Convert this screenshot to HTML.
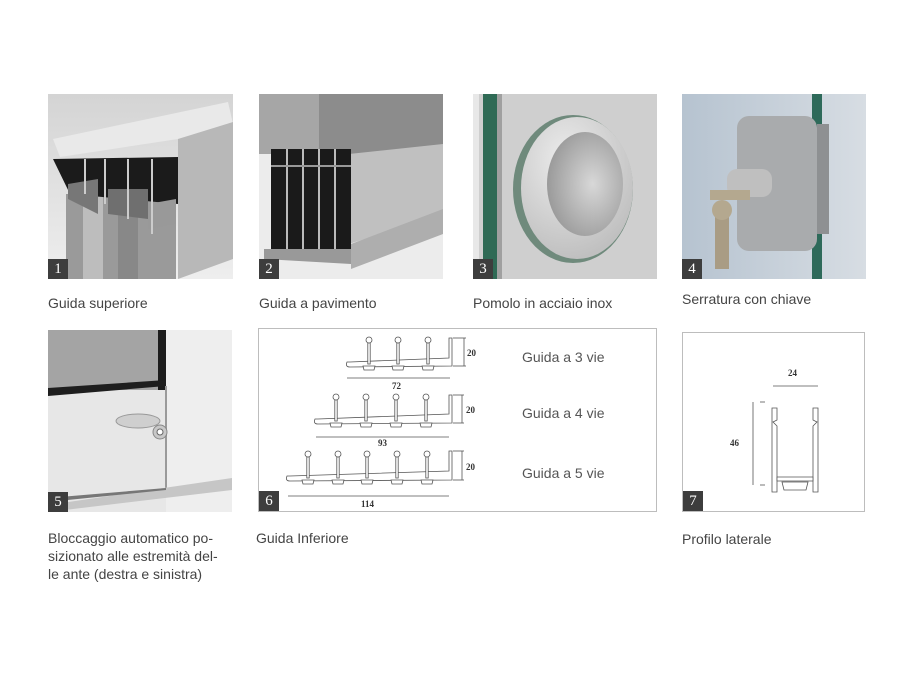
<!DOCTYPE html>
<html><head><meta charset="utf-8"><style>
html,body{margin:0;padding:0;background:#fff;}
body{width:900px;height:675px;position:relative;overflow:hidden;font-family:"Liberation Sans",sans-serif;}
.cap{position:absolute;font-size:14px;color:#444;line-height:18px;}
.ph{position:absolute;overflow:hidden;}
.badge{position:absolute;left:0;bottom:0;width:20px;height:20px;background:#3d3d3d;color:#fff;font-family:"Liberation Serif",serif;font-size:15px;text-align:center;line-height:21px;}
</style></head><body>

<!-- Photo 1 -->
<div class="ph" style="left:48px;top:94px;width:185px;height:185px;">
<svg width="185" height="185">
<defs><linearGradient id="g1" x1="0" y1="0" x2="0" y2="1"><stop offset="0" stop-color="#d4d4d4"/><stop offset="1" stop-color="#eeeeee"/></linearGradient></defs>
<rect width="185" height="185" fill="url(#g1)"/>
<rect x="18" y="100" width="110" height="85" fill="#9a9a9a"/>
<rect x="35" y="100" width="20" height="85" fill="#bdbdbd"/>
<rect x="70" y="100" width="20" height="85" fill="#888"/>
<polygon points="5,45 180,8 185,30 130,45 12,63" fill="#e9e9e9"/>
<polygon points="5,65 130,63 130,110 22,100" fill="#1b1b1b"/>
<polygon points="130,45 185,28 185,165 130,185" fill="#b8b8b8"/>
<polygon points="20,90 50,85 50,120 20,105" fill="#777"/>
<polygon points="60,95 100,95 100,125 60,120" fill="#6f6f6f"/>
<polygon points="100,110 128,105 128,130 100,135" fill="#999"/>
<line x1="37" y1="65" x2="37" y2="100" stroke="#ccc" stroke-width="2"/>
<line x1="57" y1="65" x2="57" y2="110" stroke="#ccc" stroke-width="2"/>
<line x1="80" y1="65" x2="80" y2="125" stroke="#ccc" stroke-width="2"/>
<line x1="104" y1="65" x2="104" y2="140" stroke="#ccc" stroke-width="2"/>
</svg><div class="badge">1</div></div>

<!-- Photo 2 -->
<div class="ph" style="left:259px;top:94px;width:184px;height:185px;">
<svg width="184" height="185">
<rect width="184" height="185" fill="#ececec"/>
<rect x="0" y="0" width="184" height="60" fill="#8c8c8c"/>
<rect x="0" y="0" width="60" height="60" fill="#a6a6a6"/>
<polygon points="90,60 184,50 184,120 90,150" fill="#c0c0c0"/>
<rect x="12" y="55" width="80" height="100" fill="#1a1a1a"/>
<line x1="28" y1="55" x2="28" y2="155" stroke="#bbb" stroke-width="2"/>
<line x1="44" y1="55" x2="44" y2="155" stroke="#bbb" stroke-width="2"/>
<line x1="60" y1="55" x2="60" y2="155" stroke="#bbb" stroke-width="2"/>
<line x1="76" y1="55" x2="76" y2="155" stroke="#bbb" stroke-width="2"/>
<line x1="12" y1="72" x2="92" y2="72" stroke="#999" stroke-width="2"/>
<polygon points="92,150 184,115 184,140 92,175" fill="#aeaeae"/>
<polygon points="5,155 92,155 92,170 5,165" fill="#999"/>
</svg><div class="badge">2</div></div>

<!-- Photo 3 -->
<div class="ph" style="left:473px;top:94px;width:184px;height:185px;">
<svg width="184" height="185">
<defs><radialGradient id="g3" cx="0.4" cy="0.3" r="0.7"><stop offset="0" stop-color="#ececec"/><stop offset="1" stop-color="#c0c0c0"/></radialGradient>
<radialGradient id="g3b" cx="0.6" cy="0.5" r="0.6"><stop offset="0" stop-color="#d8d8d8"/><stop offset="1" stop-color="#9a9a9a"/></radialGradient></defs>
<rect width="184" height="185" fill="#cfcfcf"/>
<rect x="0" y="0" width="6" height="185" fill="#e8e8e8"/>
<rect x="10" y="0" width="14" height="185" fill="#2f6a55"/>
<rect x="24" y="0" width="5" height="185" fill="#a0a0a0"/>
<ellipse cx="100" cy="95" rx="60" ry="74" fill="#6f8a7c"/>
<ellipse cx="104" cy="94" rx="56" ry="71" fill="url(#g3)"/>
<ellipse cx="112" cy="90" rx="38" ry="52" fill="url(#g3b)"/>
</svg><div class="badge">3</div></div>

<!-- Photo 4 -->
<div class="ph" style="left:682px;top:94px;width:184px;height:185px;">
<svg width="184" height="185">
<defs><linearGradient id="g4" x1="0" y1="0" x2="1" y2="0"><stop offset="0" stop-color="#b6c3d0"/><stop offset="1" stop-color="#d7dde3"/></linearGradient></defs>
<rect width="184" height="185" fill="url(#g4)"/>
<rect x="130" y="0" width="10" height="185" fill="#2e6a5a"/>
<rect x="55" y="22" width="80" height="135" rx="12" fill="#a9abad"/>
<rect x="135" y="30" width="12" height="110" fill="#8e9092"/>
<rect x="45" y="75" width="45" height="28" rx="10" fill="#bfbfbf"/>
<rect x="28" y="96" width="40" height="10" fill="#b4a88f"/>
<rect x="33" y="110" width="14" height="65" fill="#a99c84"/>
<circle cx="40" cy="116" r="10" fill="#b4a88f"/>
</svg><div class="badge">4</div></div>

<!-- Photo 5 -->
<div class="ph" style="left:48px;top:330px;width:184px;height:182px;">
<svg width="184" height="182">
<rect width="184" height="182" fill="#e7e7e7"/>
<rect x="0" y="0" width="112" height="60" fill="#a4a4a4"/>
<rect x="110" y="0" width="8" height="60" fill="#1c1c1c"/>
<polygon points="0,58 118,50 118,56 0,66" fill="#1e1e1e"/>
<rect x="118" y="0" width="66" height="182" fill="#eeeeee"/>
<line x1="118" y1="56" x2="118" y2="158" stroke="#9a9a9a" stroke-width="2"/>
<polygon points="0,175 184,148 184,160 0,182" fill="#c6c6c6"/>
<polygon points="0,168 118,158 118,160 0,172" fill="#777"/>
<ellipse cx="90" cy="91" rx="22" ry="7" fill="#cfcfcf" stroke="#999"/>
<circle cx="112" cy="102" r="7" fill="#c8c8c8" stroke="#888"/>
<circle cx="112" cy="102" r="3" fill="#fff" stroke="#666"/>
</svg><div class="badge">5</div></div>

<!-- Box 6 -->
<div style="position:absolute;left:258px;top:328px;width:397px;height:182px;border:1.5px solid #bdbdbd;">
<div class="badge">6</div></div>
<svg style="position:absolute;left:0;top:0" width="900" height="675">
<defs>
<g id="stem" fill="#fff" stroke="#555" stroke-width="0.8">
<circle cx="0" cy="0" r="3"/>
<rect x="-1.2" y="3" width="2.4" height="21"/>
<path d="M-6,26 L6,26 L5,30 L-5,30 Z"/>
</g>
</defs>
<g fill="none" stroke="#555" stroke-width="0.8">
<path d="M350,362 L449,358 L449,338 L452,338 L452,366 L350,367 Q345,367 347,362 Z" fill="#fff"/>
<use href="#stem" x="369" y="340"/><use href="#stem" x="398" y="340"/><use href="#stem" x="428" y="340"/>
<line x1="453" y1="338" x2="466" y2="338"/><line x1="453" y1="366" x2="466" y2="366"/>
<line x1="464" y1="338" x2="464" y2="366"/>
<line x1="347" y1="378" x2="450" y2="378"/>
<path d="M318,419 L449,414 L449,395 L452,395 L452,423 L318,424 Q313,424 315,419 Z" fill="#fff"/>
<use href="#stem" x="336" y="397"/><use href="#stem" x="366" y="397"/><use href="#stem" x="396" y="397"/><use href="#stem" x="426" y="397"/>
<line x1="453" y1="395" x2="464" y2="395"/><line x1="453" y1="423" x2="464" y2="423"/>
<line x1="462" y1="395" x2="462" y2="423"/>
<line x1="316" y1="437" x2="449" y2="437"/>
<path d="M290,476 L449,471 L449,451 L452,451 L452,480 L290,481 Q285,481 287,476 Z" fill="#fff"/>
<use href="#stem" x="308" y="454"/><use href="#stem" x="338" y="454"/><use href="#stem" x="367" y="454"/><use href="#stem" x="397" y="454"/><use href="#stem" x="427" y="454"/>
<line x1="453" y1="451" x2="464" y2="451"/><line x1="453" y1="480" x2="464" y2="480"/>
<line x1="462" y1="451" x2="462" y2="480"/>
<line x1="288" y1="496" x2="449" y2="496"/>
<path d="M772,408 L777,408 L777,420 L773,422 L777,426 L777,492 L772,492 Z" fill="#fff"/>
<path d="M813,408 L818,408 L818,492 L813,492 L813,426 L817,422 L813,420 Z" fill="#fff"/>
<path d="M777,477 L813,477 L813,481 L777,481 Z" fill="#fff"/>
<path d="M782,482 L808,482 L806,490 L784,490 Z" fill="#fff"/>
<line x1="773" y1="386" x2="818" y2="386"/>
<line x1="760" y1="402" x2="765" y2="402"/><line x1="760" y1="485" x2="765" y2="485"/>
<line x1="753" y1="402" x2="753" y2="485"/>
</g>
<g font-family="Liberation Serif,serif" font-size="9" font-weight="bold" fill="#333">
<text x="467" y="356">20</text><text x="466" y="413">20</text><text x="466" y="470">20</text>
<text x="392" y="389">72</text><text x="378" y="446">93</text><text x="361" y="507">114</text>
<text x="788" y="376">24</text><text x="730" y="446">46</text>
</g>
<g font-family="Liberation Sans,sans-serif" font-size="14" fill="#555">
<text x="522" y="362">Guida a 3 vie</text>
<text x="522" y="418">Guida a 4 vie</text>
<text x="522" y="478">Guida a 5 vie</text>
</g>
</svg>

<!-- Box 7 -->
<div style="position:absolute;left:682px;top:332px;width:181px;height:178px;border:1.5px solid #bdbdbd;">
<div class="badge">7</div></div>

<div class="cap" style="left:48px;top:294px;">Guida superiore</div>
<div class="cap" style="left:259px;top:294px;">Guida a pavimento</div>
<div class="cap" style="left:473px;top:294px;">Pomolo in acciaio inox</div>
<div class="cap" style="left:682px;top:290px;">Serratura con chiave</div>
<div class="cap" style="left:48px;top:529px;">Bloccaggio automatico po-<br>sizionato alle estremità del-<br>le ante (destra e sinistra)</div>
<div class="cap" style="left:256px;top:529px;">Guida Inferiore</div>
<div class="cap" style="left:682px;top:530px;">Profilo laterale</div>
</body></html>
